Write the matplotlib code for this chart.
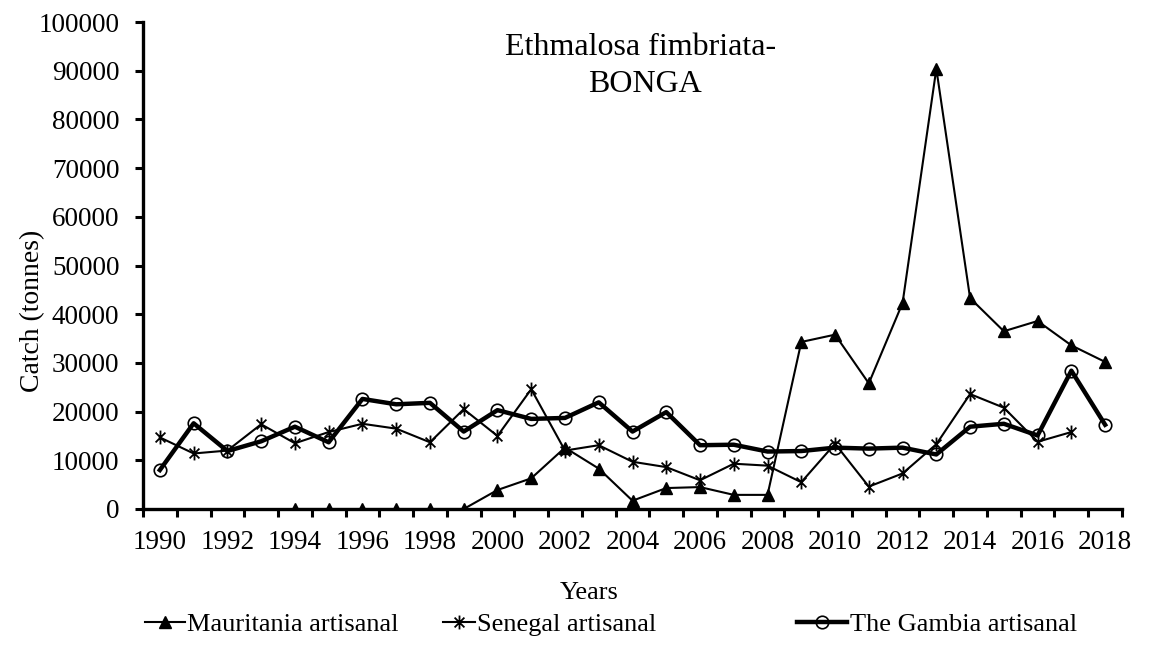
import numpy as np
import matplotlib
matplotlib.use("Agg")
import matplotlib.pyplot as plt
from matplotlib.path import Path

plt.rcParams['font.family'] = ['Liberation Serif', 'DejaVu Serif']

# data
years = list(range(1990, 2019))
maur_years = list(range(1994, 2019))
mauritania = [0, 0, 0, 0, 0, 0, 3900, 6300, 12600, 8300, 1700, 4300, 4500, 2900, 2900,
              34300, 35800, 25800, 42300, 90400, 43300, 36500, 38600, 33600, 30200]
sen_years = list(range(1990, 2018))
senegal = [14700, 11400, 12000, 17400, 13500, 15800, 17500, 16500, 13700, 20500,
           15000, 24600, 12000, 13100, 9700, 8600, 5900, 9300, 8900, 5500,
           13400, 4600, 7300, 13300, 23600, 20800, 13800, 15800]
gambia = [8000, 17600, 11900, 13900, 16900, 13700, 22600, 21500, 21800, 15900,
          20300, 18500, 18700, 21900, 15900, 19900, 13100, 13200, 11800, 11900,
          12600, 12400, 12600, 11200, 16900, 17500, 15100, 28400, 17300]
year_labels = [str(y) for y in range(1990, 2019, 2)]

# asterisk marker like the Excel one (X plus vertical bar)
d = 0.707
star = Path([(0, -1), (0, 1), (-d, -d), (d, d), (-d, d), (d, -d)],
            [Path.MOVETO, Path.LINETO] * 3)

fig = plt.figure(figsize=(11.51, 6.49), dpi=100)
ax = fig.add_axes([143 / 1151, 1 - 509 / 649, (1122 - 143) / 1151, (509 - 22) / 649])

l1, = ax.plot(maur_years, mauritania, color='black', lw=1.5, marker='^', ms=9)
l2, = ax.plot(sen_years, senegal, color='black', lw=1.5, marker=star, ms=10, mew=1.3)
l3, = ax.plot(years, gambia, color='black', lw=3.2, marker='o', ms=9, mfc='none', mew=1.2)

ax.set_xlim(1989.5, 2018.5)
ax.set_ylim(0, 100000)
ax.set_yticks(np.arange(0, 100001, 10000))
ax.set_xticks(range(1990, 2019, 2))
ax.set_xticklabels(year_labels)
ax.set_xticks(np.arange(1989.5, 2019, 1), minor=True)

ax.tick_params(axis='y', direction='out', length=6, width=2.2, labelsize=19.5, pad=11)
ax.tick_params(axis='x', which='major', length=0, labelsize=19.5, pad=15)
ax.tick_params(axis='x', which='minor', direction='out', length=6, width=2.2)

for s in ['top', 'right']:
    ax.spines[s].set_visible(False)
for s in ['left', 'bottom']:
    ax.spines[s].set_linewidth(2.4)

fig.text(33 / 1151, 1 - 311 / 649, 'Catch (tonnes)', rotation=90, ha='center',
         va='center', fontsize=20)
fig.text(589 / 1151, 1 - 593 / 649, 'Years', ha='center', va='center', fontsize=19)

ax.text(641 / 1151, 1 - 55 / 649, 'Ethmalosa fimbriata-', transform=fig.transFigure,
        ha='center', va='baseline', fontsize=23)
ax.text(645 / 1151, 1 - 92 / 649, 'BONGA', transform=fig.transFigure,
        ha='center', va='baseline', fontsize=23)

# legend entries placed one by one (Excel spacing is uneven)
entries = [(l1, 'Mauritania artisanal', 145, 1.5),
           (l2, 'Senegal artisanal', 443, 1.2),
           (l3, 'The Gambia artisanal', 797, 1.9)]
for h, lab, x0, hl in entries:
    fig.legend([h], [lab], loc='center left', bbox_to_anchor=(x0 / 1151, 1 - 624 / 649),
               frameon=False, fontsize=19, handlelength=hl, handletextpad=0.1,
               borderpad=0, borderaxespad=0)

fig.savefig('out.png', dpi=100)
